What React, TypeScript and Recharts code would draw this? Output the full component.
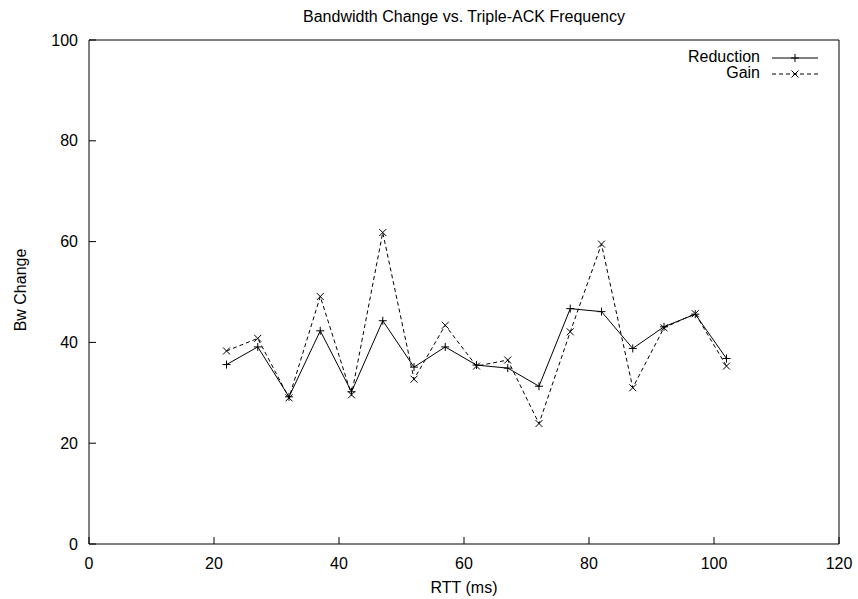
import React from "react";
import { LineChart, Line, XAxis, YAxis } from "recharts";

// RTT sample points (ms)
const rtt = [22, 27, 32, 37, 42, 47, 52, 57, 62, 67, 72, 77, 82, 87, 92, 97, 102];
// bandwidth change per RTT
const reduction = [35.6, 39.1, 29.2, 42.3, 30.2, 44.3, 35.1, 39.1, 35.5, 34.9, 31.3, 46.7, 46.1, 38.8, 43.1, 45.6, 36.8];
const gain = [38.3, 40.8, 29.0, 49.1, 29.6, 61.8, 32.7, 43.4, 35.3, 36.5, 23.9, 42.1, 59.5, 31.0, 42.9, 45.7, 35.3];

const xTicks = [0, 20, 40, 60, 80, 100, 120];
const yTicks = [0, 20, 40, 60, 80, 100];

const data = rtt.map((r, i) => ({ rtt: r, reduction: reduction[i], gain: gain[i] }));

const FONT = "'Liberation Sans', Arial, Helvetica, sans-serif";
const TICK_LEN = 7;
const X_GAP = 14;
const Y_GAP = 11;

function PlusMark({ cx, cy }: { cx?: number; cy?: number }) {
    if (cx == null || cy == null) return null;
    const s = 4;
    return (
        <g stroke="#000" strokeWidth={1}>
            <line x1={cx - s} y1={cy} x2={cx + s} y2={cy} />
            <line x1={cx} y1={cy - s} x2={cx} y2={cy + s} />
        </g>
    );
}

function CrossMark({ cx, cy }: { cx?: number; cy?: number }) {
    if (cx == null || cy == null) return null;
    const s = 3.5;
    return (
        <g stroke="#000" strokeWidth={1}>
            <line x1={cx - s} y1={cy - s} x2={cx + s} y2={cy + s} />
            <line x1={cx - s} y1={cy + s} x2={cx + s} y2={cy - s} />
        </g>
    );
}

// bottom ticks: short line pointing into the plot, label below the frame
function BottomTick(props: any) {
    const { x, y, payload } = props;
    const axisY = y - X_GAP;
    return (
        <g>
            <line x1={x} y1={axisY} x2={x} y2={axisY - TICK_LEN} stroke="#000" />
            <text x={x} y={y} dy="0.71em" textAnchor="middle" fill="#000" fontSize={16} fontFamily={FONT}>
                {payload.value}
            </text>
        </g>
    );
}

// left ticks: same idea, label to the left
function LeftTick(props: any) {
    const { x, y, payload } = props;
    const axisX = x + Y_GAP;
    return (
        <g>
            <line x1={axisX} y1={y} x2={axisX + TICK_LEN} y2={y} stroke="#000" />
            <text x={x} y={y} dy="0.355em" textAnchor="end" fill="#000" fontSize={16} fontFamily={FONT}>
                {payload.value}
            </text>
        </g>
    );
}

function KeyBox() {
    return (
        <div style={{ position: "absolute", left: 660, top: 49, width: 170, height: 36, fontFamily: FONT, fontSize: 16 }}>
            <div style={{ position: "absolute", right: 70, top: 0, lineHeight: "16px" }}>Reduction</div>
            <div style={{ position: "absolute", right: 70, top: 16, lineHeight: "16px" }}>Gain</div>
            <svg width={170} height={36} style={{ position: "absolute", left: 0, top: 0 }}>
                <line x1={112} y1={9} x2={158} y2={9} stroke="#000" strokeWidth={1} />
                <PlusMark cx={135} cy={9} />
                <line x1={112} y1={25} x2={158} y2={25} stroke="#000" strokeWidth={1} strokeDasharray="4 3" />
                <CrossMark cx={135} cy={25} />
            </svg>
        </div>
    );
}

export default function App() {
    return (
        <div style={{ position: "absolute", left: 0, top: 0, width: 858, height: 599, background: "#fff" }}>
            <div style={{ position: "absolute", left: 0, top: 8, width: 928, textAlign: "center", fontFamily: FONT, fontSize: 16 }}>
                Bandwidth Change vs. Triple-ACK Frequency
            </div>
            <LineChart width={858} height={599} data={data} margin={{ top: 40, right: 19, bottom: 15, left: 0 }}>
                <XAxis
                    dataKey="rtt"
                    type="number"
                    domain={[0, 120]}
                    ticks={xTicks}
                    height={40}
                    tickSize={0}
                    tickMargin={X_GAP}
                    tick={<BottomTick />}
                    tickLine={false}
                    axisLine={{ stroke: "#000" }}
                    interval={0}
                />
                <XAxis
                    xAxisId="top"
                    orientation="top"
                    dataKey="rtt"
                    type="number"
                    domain={[0, 120]}
                    ticks={xTicks}
                    height={1}
                    mirror
                    tickSize={TICK_LEN}
                    tick={false}
                    axisLine={{ stroke: "#000" }}
                    tickLine={{ stroke: "#000" }}
                    interval={0}
                />
                <YAxis
                    type="number"
                    domain={[0, 100]}
                    ticks={yTicks}
                    width={89}
                    tickSize={0}
                    tickMargin={Y_GAP}
                    tick={<LeftTick />}
                    tickLine={false}
                    axisLine={{ stroke: "#000" }}
                    interval={0}
                />
                <YAxis
                    yAxisId="right"
                    orientation="right"
                    type="number"
                    domain={[0, 100]}
                    ticks={yTicks}
                    width={1}
                    mirror
                    tickSize={TICK_LEN}
                    tick={false}
                    axisLine={{ stroke: "#000" }}
                    tickLine={{ stroke: "#000" }}
                    interval={0}
                />
                <Line
                    dataKey="reduction"
                    type="linear"
                    stroke="#000"
                    strokeWidth={1}
                    dot={(p: any) => <PlusMark key={`r${p.index}`} cx={p.cx} cy={p.cy} />}
                    activeDot={false}
                    isAnimationActive={false}
                />
                <Line
                    dataKey="gain"
                    type="linear"
                    stroke="#000"
                    strokeWidth={1}
                    strokeDasharray="4 3"
                    dot={(p: any) => <CrossMark key={`g${p.index}`} cx={p.cx} cy={p.cy} />}
                    activeDot={false}
                    isAnimationActive={false}
                />
            </LineChart>
            <KeyBox />
            <div style={{ position: "absolute", left: 0, top: 579, width: 928, textAlign: "center", fontFamily: FONT, fontSize: 16 }}>
                RTT (ms)
            </div>
            <div
                style={{
                    position: "absolute",
                    left: 21,
                    top: 290,
                    transform: "translate(-50%, -50%) rotate(-90deg)",
                    whiteSpace: "nowrap",
                    fontFamily: FONT,
                    fontSize: 16,
                }}
            >
                Bw Change
            </div>
        </div>
    );
}
